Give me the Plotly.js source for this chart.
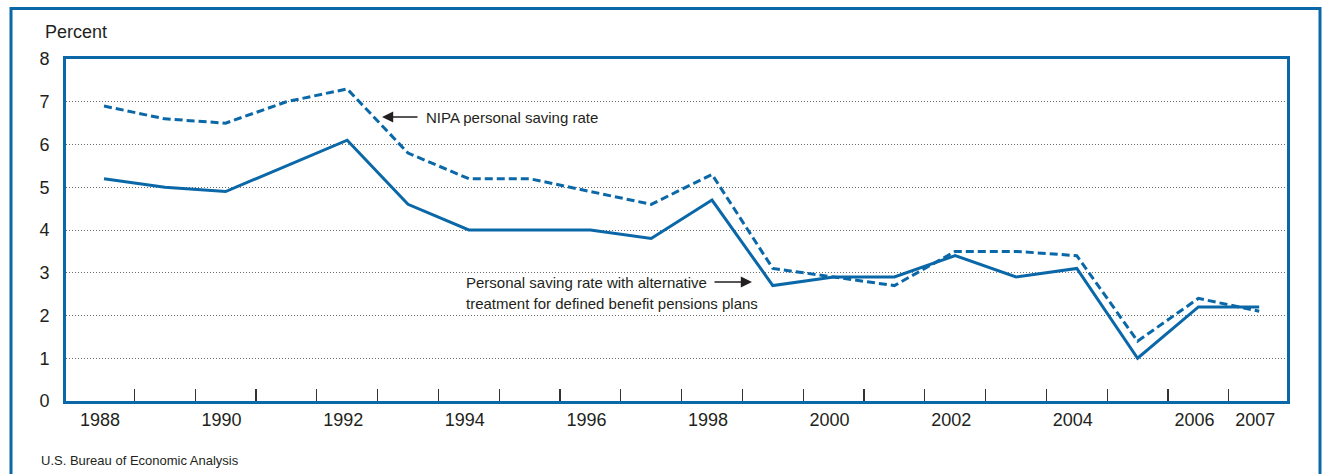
<!DOCTYPE html>
<html>
<head>
<meta charset="utf-8">
<script src="https://cdn.plot.ly/plotly-3.0.1.min.js"></script>
<style>
html,body{margin:0;padding:0;background:#fff;}
#chart{width:1322px;height:474px;}
</style>
</head>
<body>
<div id="chart"></div>
<script>
// ---- data ----
const years = [1988,1989,1990,1991,1992,1993,1994,1995,1996,1997,1998,1999,2000,2001,2002,2003,2004,2005,2006,2007];
const nipaRate = [6.9,6.6,6.5,7.0,7.3,5.8,5.2,5.2,4.9,4.6,5.3,3.1,2.9,2.7,3.5,3.5,3.4,1.4,2.4,2.1];
const altRate  = [5.2,5.0,4.9,5.5,6.1,4.6,4.0,4.0,4.0,3.8,4.7,2.7,2.9,2.9,3.4,2.9,3.1,1.0,2.2,2.2];
const xTickYears = [1988,1990,1992,1994,1996,1998,2000,2002,2004,2006,2007];
const yTicks = [0,1,2,3,4,5,6,7,8];

// ---- layout geometry ----
const W = 1322, H = 474;
const M = {l:66, r:35, t:59, b:73};
const pw = W - M.l - M.r, ph = H - M.t - M.b;
const PXYEAR = 60.8;
const xr = [1987.375, 1987.375 + pw/PXYEAR];
const px = v => (v - M.l)/pw;          // pixel -> paper x
const py = v => (H - M.b - v)/ph;      // pixel -> paper y
const labelShift = -4/PXYEAR;          // labels sit slightly left of the year marks

const BLUE = '#0a68a8';
const FONT = 'Liberation Sans, Arial, sans-serif';
const TXT = '#231f20';

const traces = [
  {x: years, y: nipaRate, type:'scatter', mode:'lines', name:'NIPA personal saving rate',
   line:{color:BLUE, width:3, dash:'8px,4px'}, hoverinfo:'x+y'},
  {x: years, y: altRate, type:'scatter', mode:'lines', name:'Alternative',
   line:{color:BLUE, width:3}, hoverinfo:'x+y'}
];

const layout = {
  width: W, height: H,
  margin: M,
  paper_bgcolor:'#fff', plot_bgcolor:'#fff',
  showlegend:false,
  font:{family:FONT, size:18, color:TXT},
  xaxis:{
    range: xr, tickmode:'array', tickvals: xTickYears.map(y=>y+labelShift), ticktext: xTickYears.map(String),
    ticks:'', showgrid:false, zeroline:false,
    showline:true, linecolor:BLUE, linewidth:3, mirror:true,
    ticklabelstandoff: 0,
    tickfont:{size:18, color:TXT},
    minor:{tickmode:'array', tickvals: years.slice(0,-1).map(y=>y+0.5), ticks:'inside', ticklen:12, tickwidth:1.3, tickcolor:'#333', showgrid:false}
  },
  yaxis:{
    range:[0,8], tickmode:'array', tickvals:yTicks, ticktext:yTicks.map(String),
    ticks:'', showgrid:true, gridcolor:'#6a6a6a', gridwidth:1, griddash:'1px,2px',
    zeroline:false, showline:true, linecolor:BLUE, linewidth:3, mirror:true,
    ticklabelstandoff: 10,
    tickfont:{size:18, color:TXT}
  },
  shapes:[
    {type:'rect', xref:'paper', yref:'paper', x0:px(11), x1:px(1320), y0:py(490), y1:py(8.5),
     line:{color:BLUE, width:3}, layer:'below'}
  ],
  annotations:[
    {xref:'paper', yref:'paper', x:px(43), y:py(32), xanchor:'left', yanchor:'middle', showarrow:false,
     text:'Percent', font:{size:18, family:FONT, color:TXT}},
    {xref:'paper', yref:'paper', x:px(39), y:py(460), xanchor:'left', yanchor:'middle', showarrow:false,
     text:'U.S. Bureau of Economic Analysis', font:{size:13, family:FONT, color:TXT}},
    {xref:'paper', yref:'paper', x:px(424), y:py(117), xanchor:'left', yanchor:'middle', showarrow:false,
     text:'NIPA personal saving rate', font:{size:15, family:FONT, color:TXT}},
    {xref:'paper', yref:'paper', x:px(382), y:py(117), showarrow:true, text:'', ax:37, ay:0,
     arrowhead:2, arrowsize:1.4, arrowwidth:1.6, arrowcolor:TXT},
    {xref:'paper', yref:'paper', x:px(464), y:py(282), xanchor:'left', yanchor:'middle', showarrow:false,
     text:'Personal saving rate with alternative', font:{size:15, family:FONT, color:TXT}},
    {xref:'paper', yref:'paper', x:px(464), y:py(303), xanchor:'left', yanchor:'middle', showarrow:false,
     text:'treatment for defined benefit pensions plans', font:{size:15, family:FONT, color:TXT}},
    {xref:'paper', yref:'paper', x:px(752), y:py(282), showarrow:true, text:'', ax:-39, ay:0,
     arrowhead:2, arrowsize:1.4, arrowwidth:1.6, arrowcolor:TXT}
  ]
};

Plotly.newPlot('chart', traces, layout, {displayModeBar:false, staticPlot:true});
</script>
</body>
</html>
